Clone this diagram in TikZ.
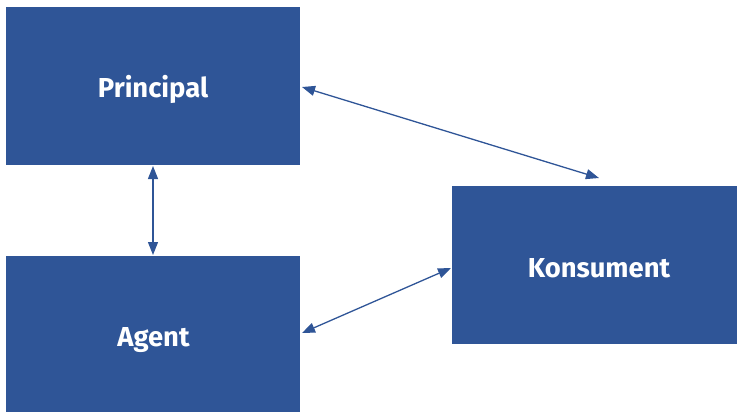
\documentclass[tikz,border=0pt]{standalone}
\usepackage{fontspec}
\setmainfont{Fira Sans}
\usetikzlibrary{arrows.meta}
\definecolor{boxblue}{HTML}{2F5597}
\begin{document}
\begin{tikzpicture}[x=1bp,y=-1bp,
  box/.style={fill=boxblue,draw=none,inner sep=0pt},
  lbl/.style={inner sep=0pt,anchor=base,font=\bfseries\fontsize{27.5}{32}\selectfont,text=white},
  link/.style={draw=boxblue,line width=1.3bp,{Triangle[length=13bp,width=10bp]}-{Triangle[length=13bp,width=10bp]}}]
\useasboundingbox (0,0) rectangle (738,413);
\node[box,minimum width=294bp,minimum height=158bp] (p) at (153,86) {};
\node[box,minimum width=294bp,minimum height=156bp] (a) at (153,334) {};
\node[box,minimum width=285bp,minimum height=158bp] (k) at (594.5,265) {};
\node[lbl] (pt) at (153,97) {Principal};
\node[lbl] (at) at (153.5,346) {Agent};
\node[lbl] (kt) at (599,277) {Konsument};
\coordinate (p1) at (153,166);
\coordinate (a1) at (153,255);
\coordinate (p2) at (302,87);
\coordinate (k1) at (599,178);
\coordinate (a2) at (302,333);
\coordinate (k2) at (451,268);
\draw[link] (p1) -- (a1);
\draw[link] (p2) -- (k1);
\draw[link] (a2) -- (k2);
\end{tikzpicture}
\end{document}
